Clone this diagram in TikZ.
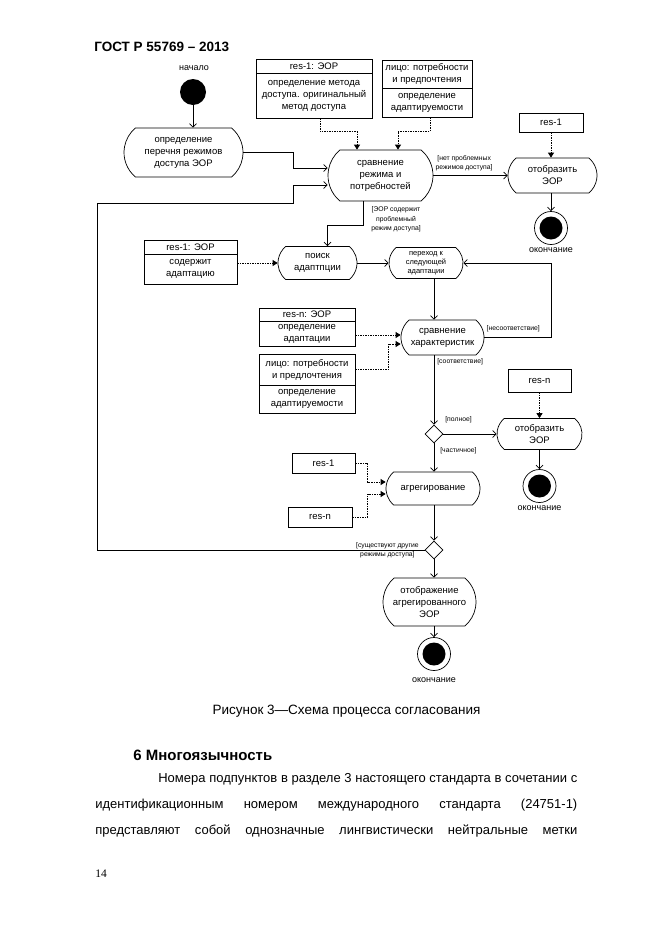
\documentclass[tikz,border=0pt]{standalone}
\usepackage{fontspec}
\setmainfont{Liberation Sans}
\newfontfamily\numfont{Liberation Serif}
\usetikzlibrary{shapes.misc,shapes.geometric,arrows.meta,calc}

\newcommand{\actfont}{\fontsize{9.5}{12}\selectfont}
\newcommand{\smallactfont}{\fontsize{7.5}{9}\selectfont}
\newcommand{\guardfont}{\fontsize{6.8}{9.5}\selectfont}
\newcommand{\bodyfont}{\fontsize{13}{16}\selectfont}
\newcommand{\capfont}{\fontsize{13.5}{16}\selectfont}

\tikzset{
  act/.style={draw, rounded rectangle, rounded rectangle arc length=100, align=center, inner sep=0pt, font=\actfont},
  obj/.style={draw, rectangle, align=center, inner sep=0pt, font=\actfont},
  startpt/.style={circle, fill=black, minimum size=26pt, inner sep=0pt},
  stoppt/.style={circle, draw, minimum size=33pt, inner sep=0pt,
    path picture={\fill (path picture bounding box.center) circle (11.5pt);}},
  choice/.style={draw, diamond, minimum size=18pt, inner sep=0pt},
  guard/.style={font=\guardfont, align=center, inner sep=0pt},
  lbl/.style={font=\fontsize{9}{11}\selectfont, inner sep=0pt},
  flow/.style={-{Straight Barb[length=3.5pt,width=7pt]}},
  dep/.style={dash pattern=on 1.5pt off 1pt, -{Triangle[length=5pt,width=6pt]}},
}

\begin{document}
\begin{tikzpicture}[x=1pt,y=-1pt,line width=0.7pt]
  \fill[white] (0,0) rectangle (661,935);
  \useasboundingbox (0,0) rectangle (661,935);
  \coordinate (spine) at (434,0);

  \node[anchor=base west, inner sep=0pt, font=\bfseries\fontsize{13.5}{16}\selectfont] (head) at (94,51) {ГОСТ Р 55769 – 2013};

  % start and first actions
  \node[lbl] (lblstart) at (194,68) {начало};
  \node[startpt] (start) at (193,92) {};
  \node[act, minimum width=119pt, minimum height=49pt] (list) at (183.5,152.5) {определение\\перечня режимов\\доступа ЭОР};

  \node[obj, minimum width=116pt, minimum height=14pt] (srchead) at (314,66) {res-1: ЭОР};
  \node[obj, minimum width=116pt, minimum height=45pt] (srcbody) at (314,95.5) {определение метода\\доступа. оригинальный\\метод доступа};
  \node[obj, minimum width=90pt, minimum height=28pt] (pershead) at (427,74) {лицо: потребности\\и предпочтения};
  \node[obj, minimum width=90pt, minimum height=29pt] (persbody) at (427,102.5) {определение\\адаптируемости};

  \node[act, minimum width=105pt, minimum height=51pt] (cmp) at (380.5,175.5) {сравнение\\режима и\\потребностей};

  \node[obj, minimum width=64pt, minimum height=19pt] (res1a) at (551,122.5) {res-1};
  \node[act, minimum width=89pt, minimum height=35pt] (show1) at (552.5,175.5) {отобразить\\ЭОР};
  \node[stoppt] (stop1) at (551,228) {};
  \node[lbl] (lblstop1) at (551,250) {окончание};

  % adaptation search
  \node[obj, minimum width=93pt, minimum height=14pt] (adapthead) at (190.5,247) {res-1: ЭОР};
  \node[obj, minimum width=93pt, minimum height=30pt] (adaptbody) at (190.5,269) {содержит\\адаптацию};
  \node[act, minimum width=79pt, minimum height=33pt] (search) at (317.5,263) {поиск\\адаптпции};
  \node[act, minimum width=74pt, minimum height=31pt, font=\smallactfont] (next) at (426,263) {переход к\\следующей\\адаптации};

  \node[obj, minimum width=96pt, minimum height=13pt] (resnhead) at (307,314.5) {res-n: ЭОР};
  \node[obj, minimum width=96pt, minimum height=25pt] (resnbody) at (307,333.5) {определение\\адаптации};
  \node[obj, minimum width=96pt, minimum height=31pt] (pershead2) at (307,369.5) {лицо: потребности\\и предлочтения};
  \node[obj, minimum width=96pt, minimum height=28pt] (persbody2) at (307,399) {определение\\адаптируемости};
  \node[act, minimum width=83pt, minimum height=35pt] (chk) at (442.5,337.5) {сравнение\\характеристик};

  \node[choice] (fork1) at (434,434) {};
  \node[obj, minimum width=63pt, minimum height=23pt] (resn1) at (539.5,380.5) {res-n};
  \node[act, minimum width=85pt, minimum height=31pt] (show2) at (539.5,434) {отобразить\\ЭОР};
  \node[stoppt] (stop2) at (539.5,486) {};
  \node[lbl] (lblstop2) at (539.5,508) {окончание};

  % aggregation
  \node[obj, minimum width=63pt, minimum height=20pt] (res1b) at (323.5,463) {res-1};
  \node[obj, minimum width=64pt, minimum height=20pt] (resn2) at (320,517) {res-n};
  \node[act, minimum width=94pt, minimum height=33pt] (aggr) at (433,488.5) {агрегирование};
  \node[choice] (fork2) at (434,550) {};
  \node[act, minimum width=93pt, minimum height=48pt] (final) at (429.5,602) {отображение\\агрегированного\\ЭОР};
  \node[stoppt] (stop3) at (434,654) {};
  \node[lbl] (lblstop3) at (434,680) {окончание};

  % guards
  \node[guard, anchor=south west] (g1) at ($(cmp.east)+(2,-4)$) {[нет проблемных\\режимов доступа]};
  \node[guard] (g2) at (396,219.5) {[ЭОР содержит\\проблемный\\режим доступа]};
  \node[guard, anchor=south west] (g3) at ($(chk.east)+(2,-5.5)$) {[несоответствие]};
  \node[guard, anchor=west] (g4) at (437,362) {[соответствие]};
  \node[guard, anchor=west] (g5) at (445,420) {[полное]};
  \node[guard, anchor=west] (g6) at (440,451) {[частичное]};
  \node[guard, anchor=east] (g7) at (419,550) {[существуют другие\\режимы доступа]};

  % control flow
  \draw[flow] (start) -- (start |- list.north);
  \draw[flow] (list.east) -| (293,168) -- ($(cmp.west)+(0,-7.5)$);
  \draw[flow] (fork2.west) -- (97,550) |- (293,203) |- ($(cmp.west)+(0,9.5)$);
  \draw[flow] (cmp.east) -- (show1.west);
  \draw[flow] (show1.south -| stop1) -- (stop1.north);
  \coordinate (b1) at (363,225);
  \draw[flow] (cmp.south -| b1) -- (b1) -| ($(search.north)+(10,0)$);
  \draw[flow] (search.east) -- (next.west);
  \draw[flow] (next.south -| spine) -- (chk.north -| spine);
  \draw[flow] (chk.east) -- ++(67,0) |- (next.east);
  \draw[flow] (chk.south -| spine) -- (fork1.north);
  \draw[flow] (fork1.east) -- (show2.west);
  \draw[flow] (show2.south) -- (stop2.north);
  \draw[flow] (fork1.south) -- (aggr.north -| spine);
  \draw[flow] (aggr.south -| spine) -- (fork2.north);
  \draw[flow] (fork2.south) -- (final.north -| spine);
  \draw[flow] (final.south -| spine) -- (stop3.north);

  % object flow
  \draw[dep] ($(srcbody.south)+(6,0)$) |- ($(cmp.north)+(-23.5,-18)$) -- ($(cmp.north)+(-23.5,0)$);
  \draw[dep] ($(persbody.south)+(3,0)$) |- ($(cmp.north)+(17.5,-18)$) -- ($(cmp.north)+(17.5,0)$);
  \draw[dep] (res1a.south) -- (res1a.south |- show1.north);
  \draw[dep] (adaptbody.east |- search.west) -- (search.west);
  \coordinate (in1) at ($(chk.west)+(0,-2.5)$);
  \coordinate (in2) at ($(chk.west)+(0,6.5)$);
  \draw[dep] (resnbody.east |- in1) -- (in1);
  \draw[dep] (pershead2.east) -| ($(in2)+(-12,0)$) -- (in2);
  \draw[dep] (resn1.south) -- (resn1.south |- show2.north);
  \coordinate (in3) at ($(aggr.west)+(0,-6.5)$);
  \coordinate (in4) at ($(aggr.west)+(0,5.5)$);
  \draw[dep] (res1b.east) -| ($(in3)+(-18,0)$) -- (in3);
  \draw[dep] (resn2.east) -| ($(in4)+(-18,0)$) -- (in4);

  % page text
  \node[anchor=base, inner sep=0pt, font=\capfont] (figcap) at (346.5,714) {Рисунок 3—Схема процесса согласования};
  \node[anchor=base west, inner sep=0pt, font=\bfseries\fontsize{15}{18}\selectfont] (sect) at (133,760) {6 Многоязычность};
  \node[anchor=base west, inner sep=0pt, font=\bodyfont] (par1) at (158,782) {\makebox[419pt][s]{Номера подпунктов в разделе 3 настоящего стандарта в сочетании с}};
  \node[anchor=base west, inner sep=0pt, font=\bodyfont] (par2) at (95,808) {\makebox[482pt][s]{идентификационным номером международного стандарта (24751-1)}};
  \node[anchor=base west, inner sep=0pt, font=\bodyfont] (par3) at (95,834) {\makebox[482pt][s]{представляют собой однозначные лингвистически нейтральные метки}};
  \node[anchor=base west, inner sep=0pt, font=\numfont\fontsize{11.5}{13}\selectfont] (pageno) at (95,877) {14};
\end{tikzpicture}
\end{document}
